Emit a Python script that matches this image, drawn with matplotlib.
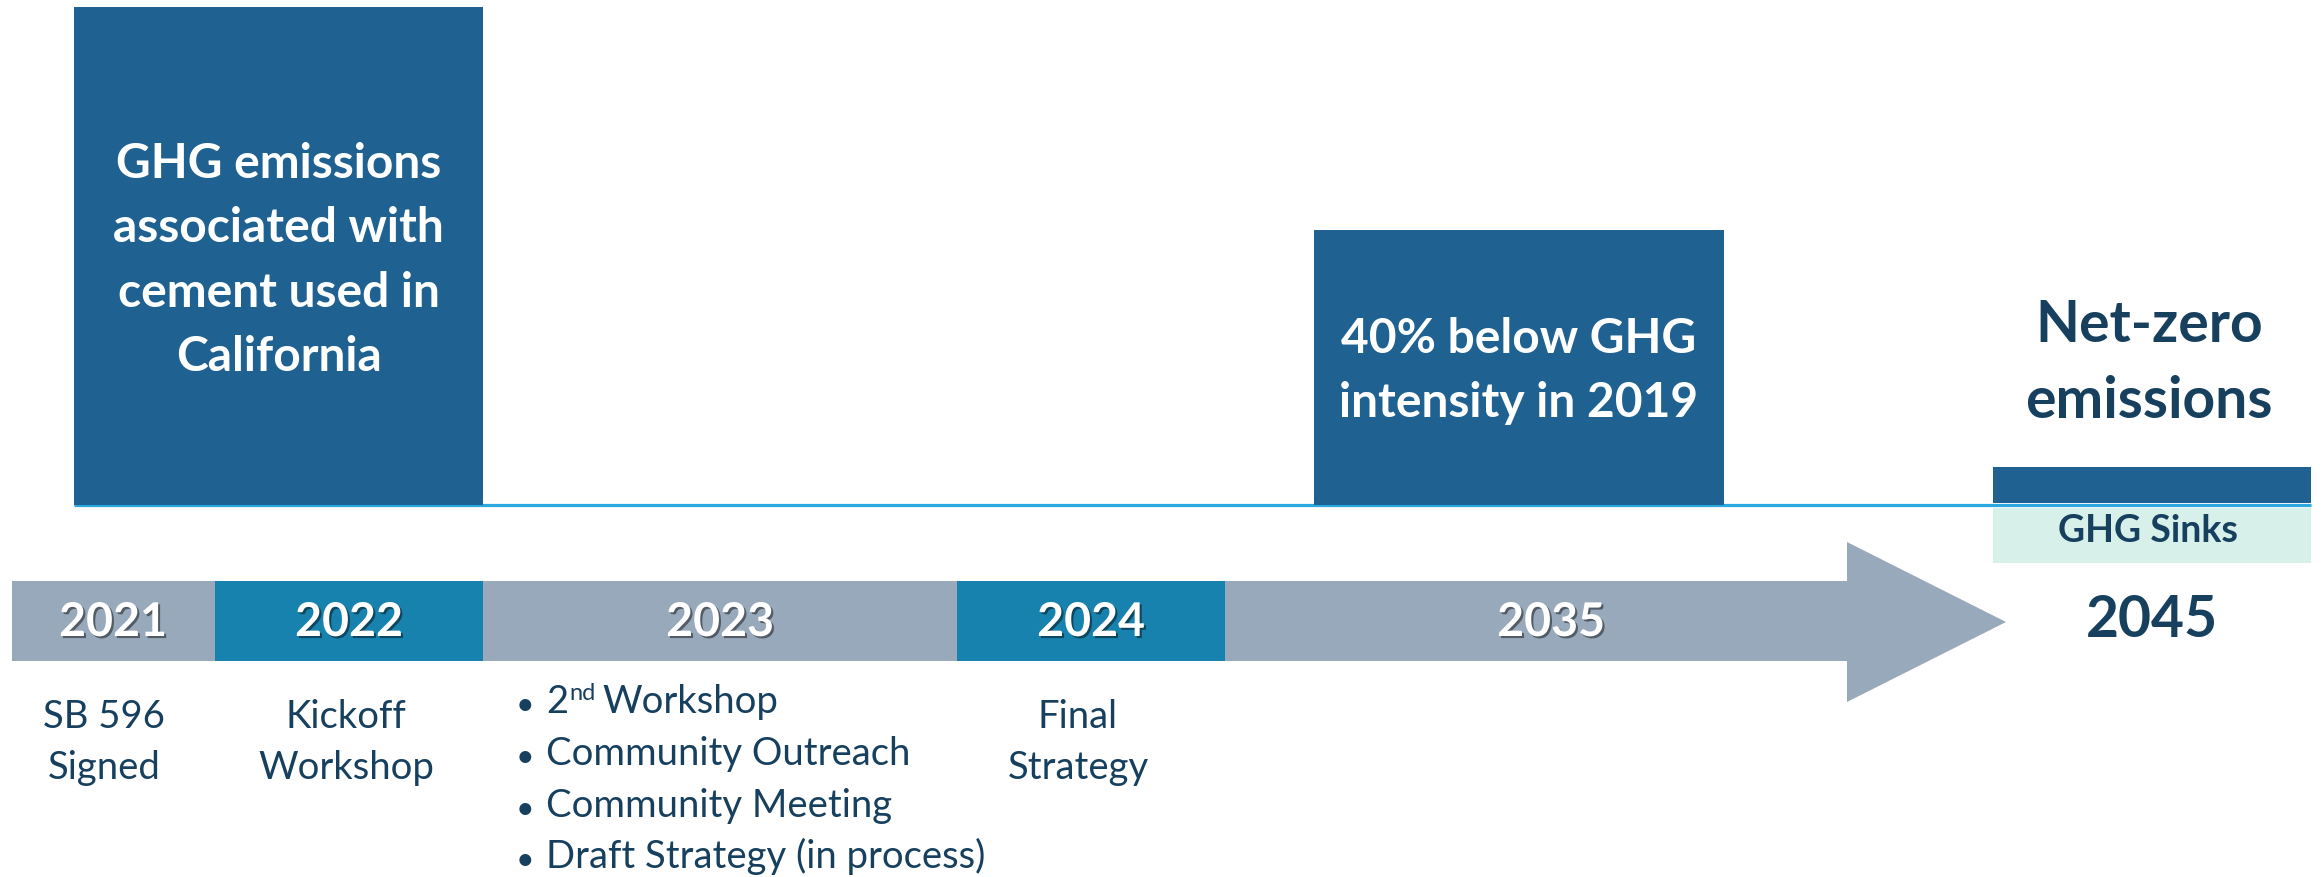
import matplotlib
matplotlib.use('Agg')
import matplotlib.pyplot as plt
from matplotlib.patches import Polygon
import matplotlib.patheffects as pe

# ---------------- data ----------------
years = ['2021', '2022', '2023', '2024', '2035']
year_notes = [['SB 596', 'Signed'], ['Kickoff', 'Workshop'], None, ['Final', 'Strategy'], None]
bullets_2023 = ['Workshop', 'Community Outreach', 'Community Meeting', 'Draft Strategy (in process)']
targets = [['GHG emissions', 'associated with', 'cement used in', 'California'],
           ['40% below GHG', 'intensity in 2019']]
final_year = '2045'
final_target = ['Net-zero', 'emissions']
sinks_label = 'GHG Sinks'

# ---------------- layout (pixels) ----------------
W, H = 2323, 877
seg_start = [12, 215, 483, 957, 1225]
seg_end = [215, 483, 957, 1225, 1847]
seg_label_x = [113, 349, 720, 1091, 1551]
note_x = [104, 346, None, 1078, None]
box_left = [74, 1314]
box_right = [483, 1724]
box_top = [7, 230]
box_base = 505
box_text_base = [[178, 242, 307, 371], [353, 417]]
nz_left, nz_right, nz_top, nz_bot = 1993, 2311, 467, 503
sink_top, sink_bot = 508, 563

BOX = '#1F6292'
TEAL = '#1782AE'
GRAY = '#97A9BA'
SINK = '#D8F0EA'
LINE = '#29A9E0'
NAVY = '#17405F'
FONT = 'Lato'
FS_BOX = 34.5
FS_YEAR = 33.5
FS_NOTE = 27.5

fig = plt.figure(figsize=(W / 100, H / 100), dpi=100)
ax = fig.add_axes([0, 0, 1, 1])
ax.set_xlim(0, W)
ax.set_ylim(H, 0)
ax.axis('off')

# baseline line
ax.plot([box_left[0], nz_right], [504.5, 504.5], color=LINE, lw=2.3, solid_capstyle='butt', zorder=1)

# milestone boxes
ax.bar(box_left, [box_base - t for t in box_top],
       width=[r - l for l, r in zip(box_left, box_right)],
       bottom=box_top, align='edge', color=BOX, linewidth=0, zorder=2)
ax.bar([nz_left], [nz_bot - nz_top], width=[nz_right - nz_left], bottom=[nz_top],
       align='edge', color=BOX, linewidth=0, zorder=2)
ax.bar([nz_left], [sink_bot - sink_top], width=[nz_right - nz_left], bottom=[sink_top],
       align='edge', color=SINK, linewidth=0, zorder=2)

for lines, bases, l, r in zip(targets, box_text_base, box_left, box_right):
    for s, b in zip(lines, bases):
        ax.text((l + r) / 2, b, s, ha='center', va='baseline', color='white',
                fontsize=FS_BOX, fontweight='bold', family=FONT, zorder=3)

cx = (nz_left + nz_right) / 2
for s, b in zip(final_target, [342, 418]):
    ax.text(cx - 3, b, s, ha='center', va='baseline', color=NAVY, fontsize=41,
            fontweight='bold', family=FONT)
ax.text(cx - 4, 542, sinks_label, ha='center', va='baseline', color=NAVY, fontsize=27,
        fontweight='bold', family=FONT, zorder=3)
ax.text(cx, 637, final_year, ha='center', va='baseline', color=NAVY, fontsize=41,
        fontweight='bold', family=FONT)

# timeline arrow
seg_colors = [GRAY, TEAL, GRAY, TEAL, GRAY]
ax.barh([621] * len(years), [e - s for s, e in zip(seg_start, seg_end)], left=seg_start,
        height=80, color=seg_colors, linewidth=0, zorder=2)
ax.add_patch(Polygon([[seg_end[-1], 542], [2006, 622], [seg_end[-1], 702]], closed=True,
                     facecolor=GRAY, edgecolor='none', zorder=2))

shadow = [pe.withSimplePatchShadow(offset=(1.5, -1.5), shadow_rgbFace='black', alpha=0.45)]
for y, x in zip(years, seg_label_x):
    ax.text(x, 636, y, ha='center', va='baseline', color='white', fontsize=FS_YEAR,
            fontweight='bold', family=FONT, zorder=4, path_effects=shadow)

# notes under the timeline
for notes, x in zip(year_notes, note_x):
    if notes is None:
        continue
    for s, b in zip(notes, [728, 779]):
        ax.text(x, b, s, ha='center', va='baseline', color=NAVY, fontsize=FS_NOTE, family=FONT)

inv = ax.transData.inverted()
bullet_base = [713, 765, 817, 868]
for i, (s, b) in enumerate(zip(bullets_2023, bullet_base)):
    ax.text(525, b - 10, '\u2022', ha='center', va='center_baseline', color=NAVY, fontsize=23, family=FONT)
    if i == 0:
        t2 = ax.text(546, b, '2', ha='left', va='baseline', color=NAVY, fontsize=FS_NOTE, family=FONT)
        fig.canvas.draw()
        x1 = inv.transform((t2.get_window_extent().x1, 0))[0]
        t3 = ax.text(x1 + 1, b - 13, 'nd', ha='left', va='baseline', color=NAVY, fontsize=17, family=FONT)
        fig.canvas.draw()
        x2 = inv.transform((t3.get_window_extent().x1, 0))[0]
        ax.text(x2 + 7, b, s, ha='left', va='baseline', color=NAVY, fontsize=FS_NOTE, family=FONT)
    else:
        ax.text(546, b, s, ha='left', va='baseline', color=NAVY, fontsize=FS_NOTE, family=FONT)

fig.savefig('out.png', dpi=100)
